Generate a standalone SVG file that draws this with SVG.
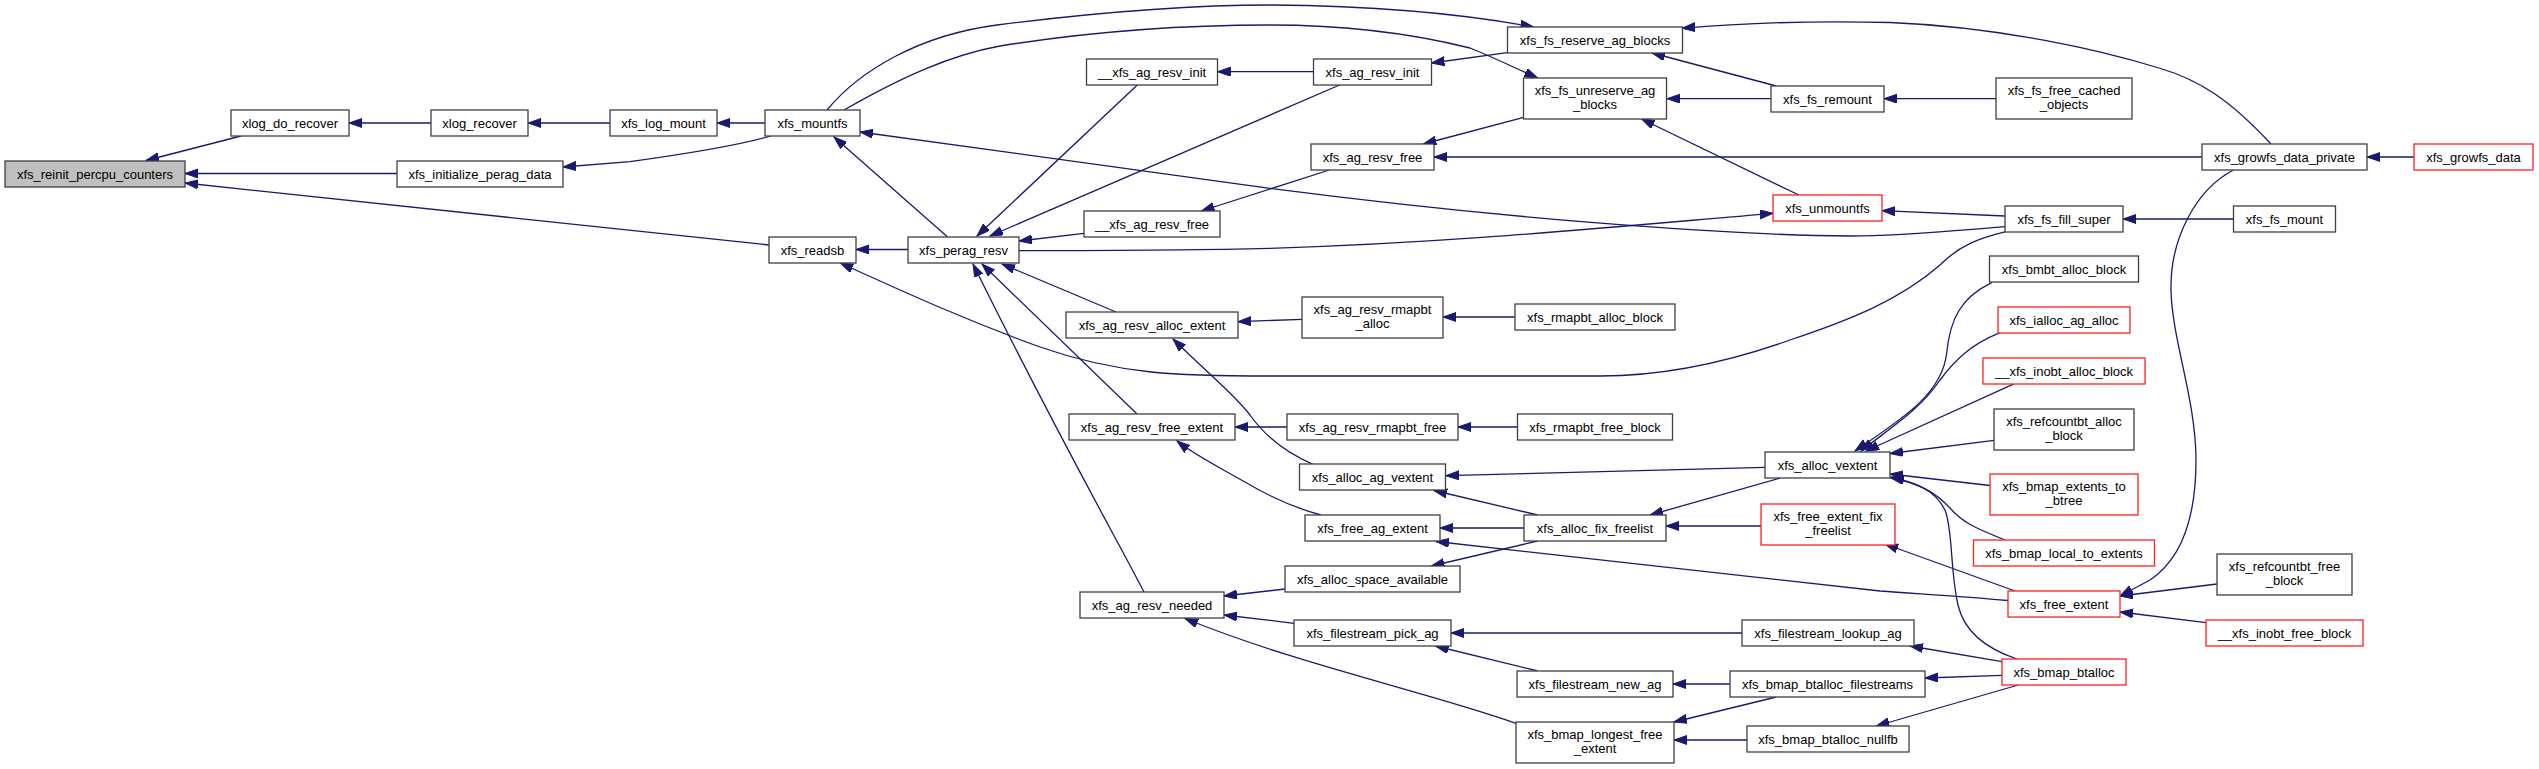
<svg xmlns="http://www.w3.org/2000/svg" width="2539" height="769" viewBox="0 0 2539 769">
<style>
.n rect{fill:#fff;stroke:#404040;stroke-width:1.3}
.n.r rect{stroke:#ff2020}
.n.root rect{fill:#bfbfbf}
.n text{font-family:"Liberation Sans",Arial,Helvetica,sans-serif;font-size:13px;text-anchor:middle;fill:#000}
.e path{fill:none;stroke:#191970;stroke-width:1.3;marker-end:url(#a)}
</style>
<defs>
<marker id="a" markerUnits="userSpaceOnUse" markerWidth="14" markerHeight="10" refX="13" refY="4.5" orient="auto"><path d="M0,0 L13,4.5 L0,9 z" fill="#191970" stroke="#191970" stroke-width="1"/></marker>
</defs>
<rect width="2539" height="769" fill="#fff"/>
<g id="edges" class="e">
<path d="M241,136 L146,160.5"/>
<path d="M397,173.5 L185,173.5"/>
<path d="M769,245 L185,183"/>
<path d="M431,123 L349,123"/>
<path d="M610,123 L528,123"/>
<path d="M765,123 L717,123"/>
<path d="M771,136 C740,145 700,152 630,161.7 L563,167"/>
<path d="M947.6,237 L834,137"/>
<path d="M2005,226.7 C1950,231 1900,236 1850,236 C1720,235 1500,218 1270,188.3 L860,132"/>
<path d="M908,249.5 L856,249.5"/>
<path d="M1137.3,85 L977,236"/>
<path d="M1339.6,85 L990,236"/>
<path d="M1084,233.3 L1019,241"/>
<path d="M1019,250.7 C1100,250.5 1200,250 1270,248.3 C1450,243 1600,228 1773,213.3"/>
<path d="M1144,592 C1120,545 1060,440 973,264"/>
<path d="M1137,414 L982,264"/>
<path d="M1116,312 L1002,264"/>
<path d="M1302,319.3 L1238,321.7"/>
<path d="M1515,317 L1443,317"/>
<path d="M1313,464.3 C1280,450 1262,432 1250,415 C1235,395 1215,380 1173,339"/>
<path d="M1287,427 L1235,427"/>
<path d="M1517.5,427 L1458,427"/>
<path d="M1321,515 C1295,508 1270,497 1245,482 C1215,465 1195,455 1177,441"/>
<path d="M1765,467.3 L1446,475.7"/>
<path d="M1537.6,515 L1434,490.5"/>
<path d="M1524,528 L1440,528"/>
<path d="M2008,600.5 C1960,596 1920,594 1880,591 L1436,541.5"/>
<path d="M1780.4,478 L1650,515"/>
<path d="M1761,526 L1666,526"/>
<path d="M1537.6,541 L1431.4,566"/>
<path d="M2015,591 L1885,544"/>
<path d="M1285,589 L1224,596"/>
<path d="M1294,623.3 L1224,615"/>
<path d="M1516,723.3 C1420,690 1300,665 1185,618.5"/>
<path d="M1742,633 L1451,633"/>
<path d="M1537.6,671 L1435.5,646"/>
<path d="M1730,684 L1673,684"/>
<path d="M1776.3,697 L1674,722"/>
<path d="M1747,740 L1674,740"/>
<path d="M2002,661.7 L1910,646"/>
<path d="M2002,675.3 L1925,678"/>
<path d="M2018.3,685 L1876.3,726"/>
<path d="M1991.7,282.7 C1960,298 1950,320 1946.7,353 C1942,395 1900,420 1855,451"/>
<path d="M2000,332.7 C1970,345 1955,360 1940,380 C1920,410 1890,428 1861,451"/>
<path d="M2015,383.3 L1866,451"/>
<path d="M1994,440.3 L1890,453.5"/>
<path d="M1990,485.5 L1890,474"/>
<path d="M2005,540 C1975,528 1962,522 1950,508 C1935,492 1920,484 1891,477"/>
<path d="M2017,659 C1990,650 1965,635 1958,605 C1950,570 1953,530 1945,510 C1935,490 1915,482 1891,478"/>
<path d="M2233.5,170 C2195,190 2170,240 2171,290 C2172,340 2196,400 2196,460 C2196,520 2180,560 2150,580 L2120,596"/>
<path d="M2217,584 L2120,596"/>
<path d="M2206,622.7 L2120,612"/>
<path d="M2414,157 L2367,157"/>
<path d="M2271,144 C2230,100 2200,80 2159,68 C2100,50 2000,27 1890,22.5 C1790,20 1720,25 1682,28.3"/>
<path d="M1776.3,86 L1652,53"/>
<path d="M1507.3,52.7 L1431.4,63"/>
<path d="M827,110 C860,70 920,35 997,25 C1100,12 1200,5 1270,5 C1380,6 1470,15 1533.5,27"/>
<path d="M844,110 C900,78 950,55 1000,46 C1100,30 1200,25 1270,25 C1360,25 1430,38 1470,48 C1495,58 1515,68 1537.6,78"/>
<path d="M1771,98.7 L1667,98.7"/>
<path d="M1798.8,195 L1641.6,119"/>
<path d="M1523.7,117.3 L1423.3,144"/>
<path d="M2202,157 L1434,157"/>
<path d="M1329.4,170 L1201.4,211"/>
<path d="M1996,98.7 L1884,98.7"/>
<path d="M2005,216 L1882,210.7"/>
<path d="M2233.5,219 L2123,219"/>
<path d="M2005.9,231.7 C1980,238 1960,245 1940,265 C1900,300 1850,320 1790,340 C1720,365 1660,376 1600,376 L1270,376 C1180,376 1120,375 1040,347 C960,318 900,290 840.2,263"/>
<path d="M1313.5,71.7 L1217.5,71.7"/>
</g>
<g id="n1" class="n root"><rect x="5" y="161" width="180" height="26"/><text x="95" y="178.5">xfs_reinit_percpu_counters</text></g>
<g id="n2" class="n"><rect x="231" y="110" width="118" height="26"/><text x="290" y="127.5">xlog_do_recover</text></g>
<g id="n3" class="n"><rect x="431" y="110" width="97" height="26"/><text x="479.5" y="127.5">xlog_recover</text></g>
<g id="n4" class="n"><rect x="610" y="110" width="107" height="26"/><text x="663.5" y="127.5">xfs_log_mount</text></g>
<g id="n5" class="n"><rect x="765" y="110" width="95" height="26"/><text x="812.5" y="127.5">xfs_mountfs</text></g>
<g id="n6" class="n"><rect x="397" y="161" width="166" height="26"/><text x="480" y="178.5">xfs_initialize_perag_data</text></g>
<g id="n7" class="n"><rect x="769" y="237" width="87" height="26"/><text x="812.5" y="254.5">xfs_readsb</text></g>
<g id="n8" class="n"><rect x="908" y="237" width="111" height="26"/><text x="963.5" y="254.5">xfs_perag_resv</text></g>
<g id="n9" class="n"><rect x="1086.5" y="59" width="131" height="26"/><text x="1152" y="76.5">__xfs_ag_resv_init</text></g>
<g id="n10" class="n"><rect x="1084" y="211" width="136" height="26"/><text x="1152" y="228.5">__xfs_ag_resv_free</text></g>
<g id="n11" class="n"><rect x="1066" y="312" width="172" height="26"/><text x="1152" y="329.5">xfs_ag_resv_alloc_extent</text></g>
<g id="n12" class="n"><rect x="1069" y="414" width="166" height="26"/><text x="1152" y="431.5">xfs_ag_resv_free_extent</text></g>
<g id="n13" class="n"><rect x="1080" y="592" width="144" height="26"/><text x="1152" y="609.5">xfs_ag_resv_needed</text></g>
<g id="n14" class="n"><rect x="1507.5" y="27" width="175" height="26"/><text x="1595" y="44.5">xfs_fs_reserve_ag_blocks</text></g>
<g id="n15" class="n"><rect x="1313.5" y="59" width="118" height="26"/><text x="1372.5" y="76.5">xfs_ag_resv_init</text></g>
<g id="n16" class="n"><rect x="1523.5" y="78" width="143" height="41"/><text x="1595" y="95">xfs_fs_unreserve_ag</text><text x="1595" y="109">_blocks</text></g>
<g id="n17" class="n"><rect x="1311" y="144" width="123" height="26"/><text x="1372.5" y="161.5">xfs_ag_resv_free</text></g>
<g id="n18" class="n"><rect x="1302" y="297" width="141" height="41"/><text x="1372.5" y="314">xfs_ag_resv_rmapbt</text><text x="1372.5" y="328">_alloc</text></g>
<g id="n19" class="n"><rect x="1515" y="304" width="160" height="26"/><text x="1595" y="321.5">xfs_rmapbt_alloc_block</text></g>
<g id="n20" class="n"><rect x="1287" y="414" width="171" height="26"/><text x="1372.5" y="431.5">xfs_ag_resv_rmapbt_free</text></g>
<g id="n21" class="n"><rect x="1517.5" y="414" width="155" height="26"/><text x="1595" y="431.5">xfs_rmapbt_free_block</text></g>
<g id="n22" class="n"><rect x="1299.5" y="464" width="146" height="26"/><text x="1372.5" y="481.5">xfs_alloc_ag_vextent</text></g>
<g id="n23" class="n"><rect x="1305" y="515" width="135" height="26"/><text x="1372.5" y="532.5">xfs_free_ag_extent</text></g>
<g id="n24" class="n"><rect x="1524" y="515" width="142" height="26"/><text x="1595" y="532.5">xfs_alloc_fix_freelist</text></g>
<g id="n25" class="n"><rect x="1285" y="566" width="175" height="26"/><text x="1372.5" y="583.5">xfs_alloc_space_available</text></g>
<g id="n26" class="n"><rect x="1294" y="620" width="157" height="26"/><text x="1372.5" y="637.5">xfs_filestream_pick_ag</text></g>
<g id="n27" class="n"><rect x="1517" y="671" width="156" height="26"/><text x="1595" y="688.5">xfs_filestream_new_ag</text></g>
<g id="n28" class="n"><rect x="1516" y="722" width="158" height="41"/><text x="1595" y="739">xfs_bmap_longest_free</text><text x="1595" y="753">_extent</text></g>
<g id="n29" class="n"><rect x="1771" y="86" width="113" height="26"/><text x="1827.5" y="103.5">xfs_fs_remount</text></g>
<g id="n30" class="n r"><rect x="1773" y="195" width="109" height="26"/><text x="1827.5" y="212.5">xfs_unmountfs</text></g>
<g id="n31" class="n"><rect x="1765" y="452" width="125" height="26"/><text x="1827.5" y="469.5">xfs_alloc_vextent</text></g>
<g id="n32" class="n r"><rect x="1761" y="504" width="134" height="41"/><text x="1828" y="521">xfs_free_extent_fix</text><text x="1828" y="535">_freelist</text></g>
<g id="n33" class="n"><rect x="1742" y="620" width="172" height="26"/><text x="1828" y="637.5">xfs_filestream_lookup_ag</text></g>
<g id="n34" class="n"><rect x="1730" y="671" width="195" height="26"/><text x="1827.5" y="688.5">xfs_bmap_btalloc_filestreams</text></g>
<g id="n35" class="n"><rect x="1747" y="726" width="162" height="26"/><text x="1828" y="743.5">xfs_bmap_btalloc_nullfb</text></g>
<g id="n36" class="n"><rect x="1996" y="78" width="136" height="41"/><text x="2064" y="95">xfs_fs_free_cached</text><text x="2064" y="109">_objects</text></g>
<g id="n37" class="n"><rect x="2005" y="206" width="118" height="26"/><text x="2064" y="223.5">xfs_fs_fill_super</text></g>
<g id="n38" class="n"><rect x="1989.5" y="256" width="149" height="26"/><text x="2064" y="273.5">xfs_bmbt_alloc_block</text></g>
<g id="n39" class="n r"><rect x="1998" y="307" width="132" height="26"/><text x="2064" y="324.5">xfs_ialloc_ag_alloc</text></g>
<g id="n40" class="n r"><rect x="1983" y="358" width="162" height="26"/><text x="2064" y="375.5">__xfs_inobt_alloc_block</text></g>
<g id="n41" class="n"><rect x="1994" y="409" width="140" height="41"/><text x="2064" y="426">xfs_refcountbt_alloc</text><text x="2064" y="440">_block</text></g>
<g id="n42" class="n r"><rect x="1990" y="474" width="148" height="41"/><text x="2064" y="491">xfs_bmap_extents_to</text><text x="2064" y="505">_btree</text></g>
<g id="n43" class="n r"><rect x="1973.5" y="540" width="181" height="26"/><text x="2064" y="557.5">xfs_bmap_local_to_extents</text></g>
<g id="n44" class="n r"><rect x="2008" y="591" width="112" height="26"/><text x="2064" y="608.5">xfs_free_extent</text></g>
<g id="n45" class="n r"><rect x="2002" y="659" width="124" height="26"/><text x="2064" y="676.5">xfs_bmap_btalloc</text></g>
<g id="n46" class="n"><rect x="2202" y="144" width="165" height="26"/><text x="2284.5" y="161.5">xfs_growfs_data_private</text></g>
<g id="n47" class="n r"><rect x="2414" y="144" width="119" height="26"/><text x="2473.5" y="161.5">xfs_growfs_data</text></g>
<g id="n48" class="n"><rect x="2233.5" y="206" width="102" height="26"/><text x="2284.5" y="223.5">xfs_fs_mount</text></g>
<g id="n49" class="n"><rect x="2217" y="554" width="135" height="41"/><text x="2284.5" y="571">xfs_refcountbt_free</text><text x="2284.5" y="585">_block</text></g>
<g id="n50" class="n r"><rect x="2206" y="620" width="157" height="26"/><text x="2284.5" y="637.5">__xfs_inobt_free_block</text></g>
</svg>
